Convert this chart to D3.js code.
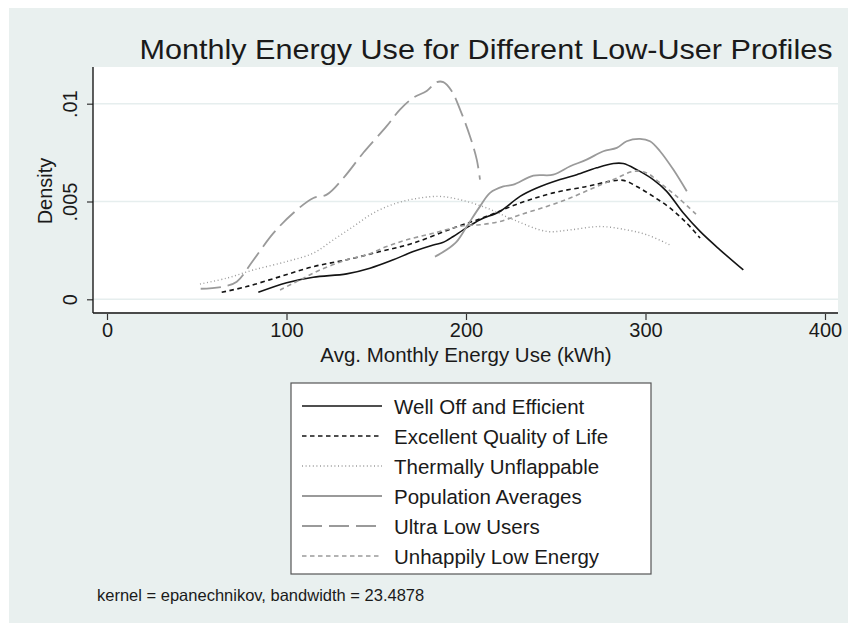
<!DOCTYPE html>
<html>
<head>
<meta charset="utf-8">
<script src="https://cdn.jsdelivr.net/npm/d3@7/dist/d3.min.js"></script>
<style>
  html, body { margin: 0; padding: 0; background: #ffffff; }
  svg { display: block; }
  text { font-family: "Liberation Sans", Arial, Helvetica, sans-serif; fill: #1a1a1a; }
</style>
</head>
<body>
<svg id="chart" width="848" height="623"></svg>
<script>
// Kernel density estimates of average monthly energy use (kWh) per user profile
const seriesNames = [
  "Well Off and Efficient",
  "Excellent Quality of Life",
  "Thermally Unflappable",
  "Population Averages",
  "Ultra Low Users",
  "Unhappily Low Energy"
];

const wellOffKwh = [84.3, 100.1, 114.9, 133.5, 146.5, 159.5, 170.6, 181.8, 187, 192.9, 198.5, 207.8, 218.9, 230.1, 239.4, 252.4, 261.7, 272.8, 282.1, 287.6, 295.1, 304.3, 311.8, 321.1, 330.4, 341.5, 354.5];
const wellOffDensity = [0.00036, 0.00085, 0.00113, 0.0013, 0.00159, 0.00202, 0.00244, 0.00278, 0.0029, 0.00321, 0.00355, 0.00407, 0.00449, 0.00526, 0.00569, 0.00612, 0.00637, 0.00672, 0.00694, 0.00694, 0.00663, 0.00612, 0.00552, 0.00441, 0.00347, 0.00253, 0.0015];

const excellentKwh = [63.9, 77.8, 96.4, 114.9, 133.5, 152.1, 170.6, 192.9, 211.5, 230.1, 248.6, 267.2, 280.2, 287.6, 295.1, 304.3, 313.6, 322.9, 330.4];
const excellentDensity = [0.00036, 0.00065, 0.00116, 0.00167, 0.00202, 0.00244, 0.00287, 0.00364, 0.00424, 0.00492, 0.00544, 0.00577, 0.00603, 0.00608, 0.00577, 0.00526, 0.00467, 0.0039, 0.00313];

const thermallyKwh = [51.8, 66.7, 81.5, 100.1, 114.9, 126.1, 137.2, 148.4, 161.4, 174.4, 185.5, 196.7, 211.5, 226.4, 245, 258, 274.7, 289.5, 300.7, 313.6];
const thermallyDensity = [0.00078, 0.00108, 0.0015, 0.00193, 0.00236, 0.00304, 0.00372, 0.00441, 0.00492, 0.00518, 0.00526, 0.00509, 0.00467, 0.00407, 0.00347, 0.00355, 0.00372, 0.00355, 0.0033, 0.00278];

const populationKwh = [182.7, 189.2, 194.8, 200.4, 207.8, 213.4, 220.8, 226.4, 237.5, 248.6, 258, 267.2, 276.5, 284, 289.5, 296.9, 302.5, 308.1, 315.5, 323];
const populationDensity = [0.00218, 0.00253, 0.00295, 0.00372, 0.00475, 0.00544, 0.00577, 0.00586, 0.00632, 0.00637, 0.0068, 0.00714, 0.00757, 0.00774, 0.00808, 0.0082, 0.00808, 0.00757, 0.00663, 0.00552];

const ultraLowKwh = [52.2, 64.8, 72.3, 81.5, 92.7, 103.8, 115, 122.4, 131.7, 142.8, 155.8, 163.2, 170.6, 178.1, 183.7, 187.4, 192, 196.7, 202.2, 206, 207.8];
const ultraLowDensity = [0.00054, 0.00065, 0.0009, 0.002, 0.00338, 0.00441, 0.00518, 0.00535, 0.0062, 0.00749, 0.00885, 0.0097, 0.0103, 0.01065, 0.0111, 0.0111, 0.01065, 0.0097, 0.00834, 0.00714, 0.00612];

const unhappyKwh = [96.4, 107.5, 118.7, 133.5, 144.7, 155.8, 167, 181.8, 198.5, 207.8, 218.9, 230.1, 245, 258, 270.9, 282.1, 293.3, 300.7, 308.1, 317.4, 329.4];
const unhappyDensity = [0.00048, 0.00099, 0.0015, 0.00202, 0.00227, 0.0027, 0.00304, 0.00338, 0.00376, 0.00381, 0.00398, 0.00432, 0.00475, 0.00518, 0.00569, 0.00612, 0.00654, 0.00646, 0.00595, 0.00526, 0.00424];

const xTicks = [0, 100, 200, 300, 400];
const yTicks = [0, 0.005, 0.01];
const yTickLabels = ["0", ".005", ".01"];

const titleText = "Monthly Energy Use for Different Low-User Profiles";
const xAxisTitle = "Avg. Monthly Energy Use (kWh)";
const yAxisTitle = "Density";
const noteText = "kernel = epanechnikov, bandwidth = 23.4878";

// Pair each profile with its x and density arrays
const seriesData = [
  [wellOffKwh, wellOffDensity],
  [excellentKwh, excellentDensity],
  [thermallyKwh, thermallyDensity],
  [populationKwh, populationDensity],
  [ultraLowKwh, ultraLowDensity],
  [unhappyKwh, unhappyDensity]
].map(([xs, ys], i) => ({
  name: seriesNames[i],
  points: xs.map((x, j) => ({ x, y: ys[j] }))
}));

// Line appearance for each profile (Stata-like patterns)
const lineStyles = {
  "Well Off and Efficient":    { stroke: "#141414", width: 1.6, dash: null },
  "Excellent Quality of Life": { stroke: "#141414", width: 1.6, dash: "4.5,3.5" },
  "Thermally Unflappable":     { stroke: "#9a9a9a", width: 1.4, dash: "1,2.6" },
  "Population Averages":       { stroke: "#9a9a9a", width: 1.8, dash: null },
  "Ultra Low Users":           { stroke: "#9a9a9a", width: 1.8, dash: "20,7" },
  "Unhappily Low Energy":      { stroke: "#9a9a9a", width: 1.6, dash: "4.5,3.5" }
};

const fontStack = "'Liberation Sans', Arial, Helvetica, sans-serif";

const svg = d3.select("#chart");

// Outer graph region
svg.append("rect")
  .attr("x", 9).attr("y", 8)
  .attr("width", 839).attr("height", 615)
  .attr("fill", "#e9f0ef");

// Plot region box
const plot = { left: 93, right: 838, top: 67, bottom: 313 };

const x = d3.scaleLinear().domain([0, 400]).range([107, 825]);
const y = d3.scaleLinear().domain([0, 0.01]).range([299.3, 103.7]);

svg.append("rect")
  .attr("x", plot.left).attr("y", plot.top)
  .attr("width", plot.right - plot.left).attr("height", plot.bottom - plot.top)
  .attr("fill", "#ffffff");

// Horizontal grid lines
svg.append("g").selectAll("line")
  .data(yTicks)
  .join("line")
  .attr("x1", plot.left).attr("x2", plot.right)
  .attr("y1", d => y(d)).attr("y2", d => y(d))
  .attr("stroke", "#e6eeee")
  .attr("stroke-width", 1.6);

// Density curves
const line = d3.line()
  .x(d => x(d.x))
  .y(d => y(d.y))
  .curve(d3.curveCatmullRom.alpha(0.5));

svg.append("g").selectAll("path")
  .data(seriesData)
  .join("path")
  .attr("d", d => line(d.points))
  .attr("fill", "none")
  .attr("stroke", d => lineStyles[d.name].stroke)
  .attr("stroke-width", d => lineStyles[d.name].width)
  .attr("stroke-dasharray", d => lineStyles[d.name].dash)
  .attr("stroke-linejoin", "round");

// Axes
const xAxis = d3.axisBottom(x).tickValues(xTicks).tickSize(7).tickPadding(4);
const gx = svg.append("g")
  .attr("transform", `translate(0,${plot.bottom})`)
  .call(xAxis);
gx.select(".domain").remove();
gx.append("line")
  .attr("x1", plot.left).attr("x2", plot.right)
  .attr("y1", 0).attr("y2", 0)
  .attr("stroke", "#4a4a4a").attr("stroke-width", 1.8);
gx.selectAll(".tick line").attr("stroke", "#333").attr("stroke-width", 1.2);
gx.selectAll(".tick text")
  .attr("font-size", 20)
  .attr("fill", "#1a1a1a")
  .attr("y", 10)
  .style("font-family", fontStack);

const yAxis = d3.axisLeft(y).tickValues(yTicks).tickSize(6).tickFormat((d, i) => yTickLabels[i]);
const gy = svg.append("g")
  .attr("transform", `translate(${plot.left},0)`)
  .call(yAxis);
gy.select(".domain").remove();
gy.append("line")
  .attr("x1", 0).attr("x2", 0)
  .attr("y1", plot.top).attr("y2", plot.bottom)
  .attr("stroke", "#1a1a1a").attr("stroke-width", 1.4);
gy.selectAll(".tick line").attr("stroke", "#333").attr("stroke-width", 1.2);
gy.selectAll(".tick text")
  .attr("font-size", 20)
  .attr("fill", "#1a1a1a")
  .attr("text-anchor", "middle")
  .attr("x", 0)
  .attr("dy", 0)
  .attr("transform", "translate(-16,0) rotate(-90)")
  .style("font-family", fontStack);

// Titles
svg.append("text")
  .attr("x", 486).attr("y", 59)
  .attr("text-anchor", "middle")
  .attr("font-size", 28)
  .attr("textLength", 693)
  .attr("lengthAdjust", "spacingAndGlyphs")
  .text(titleText);

svg.append("text")
  .attr("x", 466).attr("y", 362)
  .attr("text-anchor", "middle")
  .attr("font-size", 20.5)
  .text(xAxisTitle);

svg.append("text")
  .attr("transform", "translate(52,191) rotate(-90)")
  .attr("text-anchor", "middle")
  .attr("font-size", 20)
  .text(yAxisTitle);

// Legend
const legend = { x: 291, y: 383, width: 360, height: 191, rowStart: 406, rowGap: 30 };
svg.append("rect")
  .attr("x", legend.x).attr("y", legend.y)
  .attr("width", legend.width).attr("height", legend.height)
  .attr("fill", "#ffffff")
  .attr("stroke", "#555")
  .attr("stroke-width", 1.2);

const rows = svg.append("g").selectAll("g")
  .data(seriesNames)
  .join("g")
  .attr("transform", (d, i) => `translate(0,${legend.rowStart + i * legend.rowGap})`);

rows.append("line")
  .attr("x1", 302).attr("x2", 382)
  .attr("y1", 0).attr("y2", 0)
  .attr("stroke", d => lineStyles[d].stroke)
  .attr("stroke-width", d => lineStyles[d].width)
  .attr("stroke-dasharray", d => lineStyles[d].dash);

rows.append("text")
  .attr("x", 394).attr("y", 7.5)
  .attr("font-size", 20.5)
  .text(d => d);

// Note
svg.append("text")
  .attr("x", 97).attr("y", 601)
  .attr("font-size", 16.5)
  .text(noteText);
</script>
</body>
</html>
